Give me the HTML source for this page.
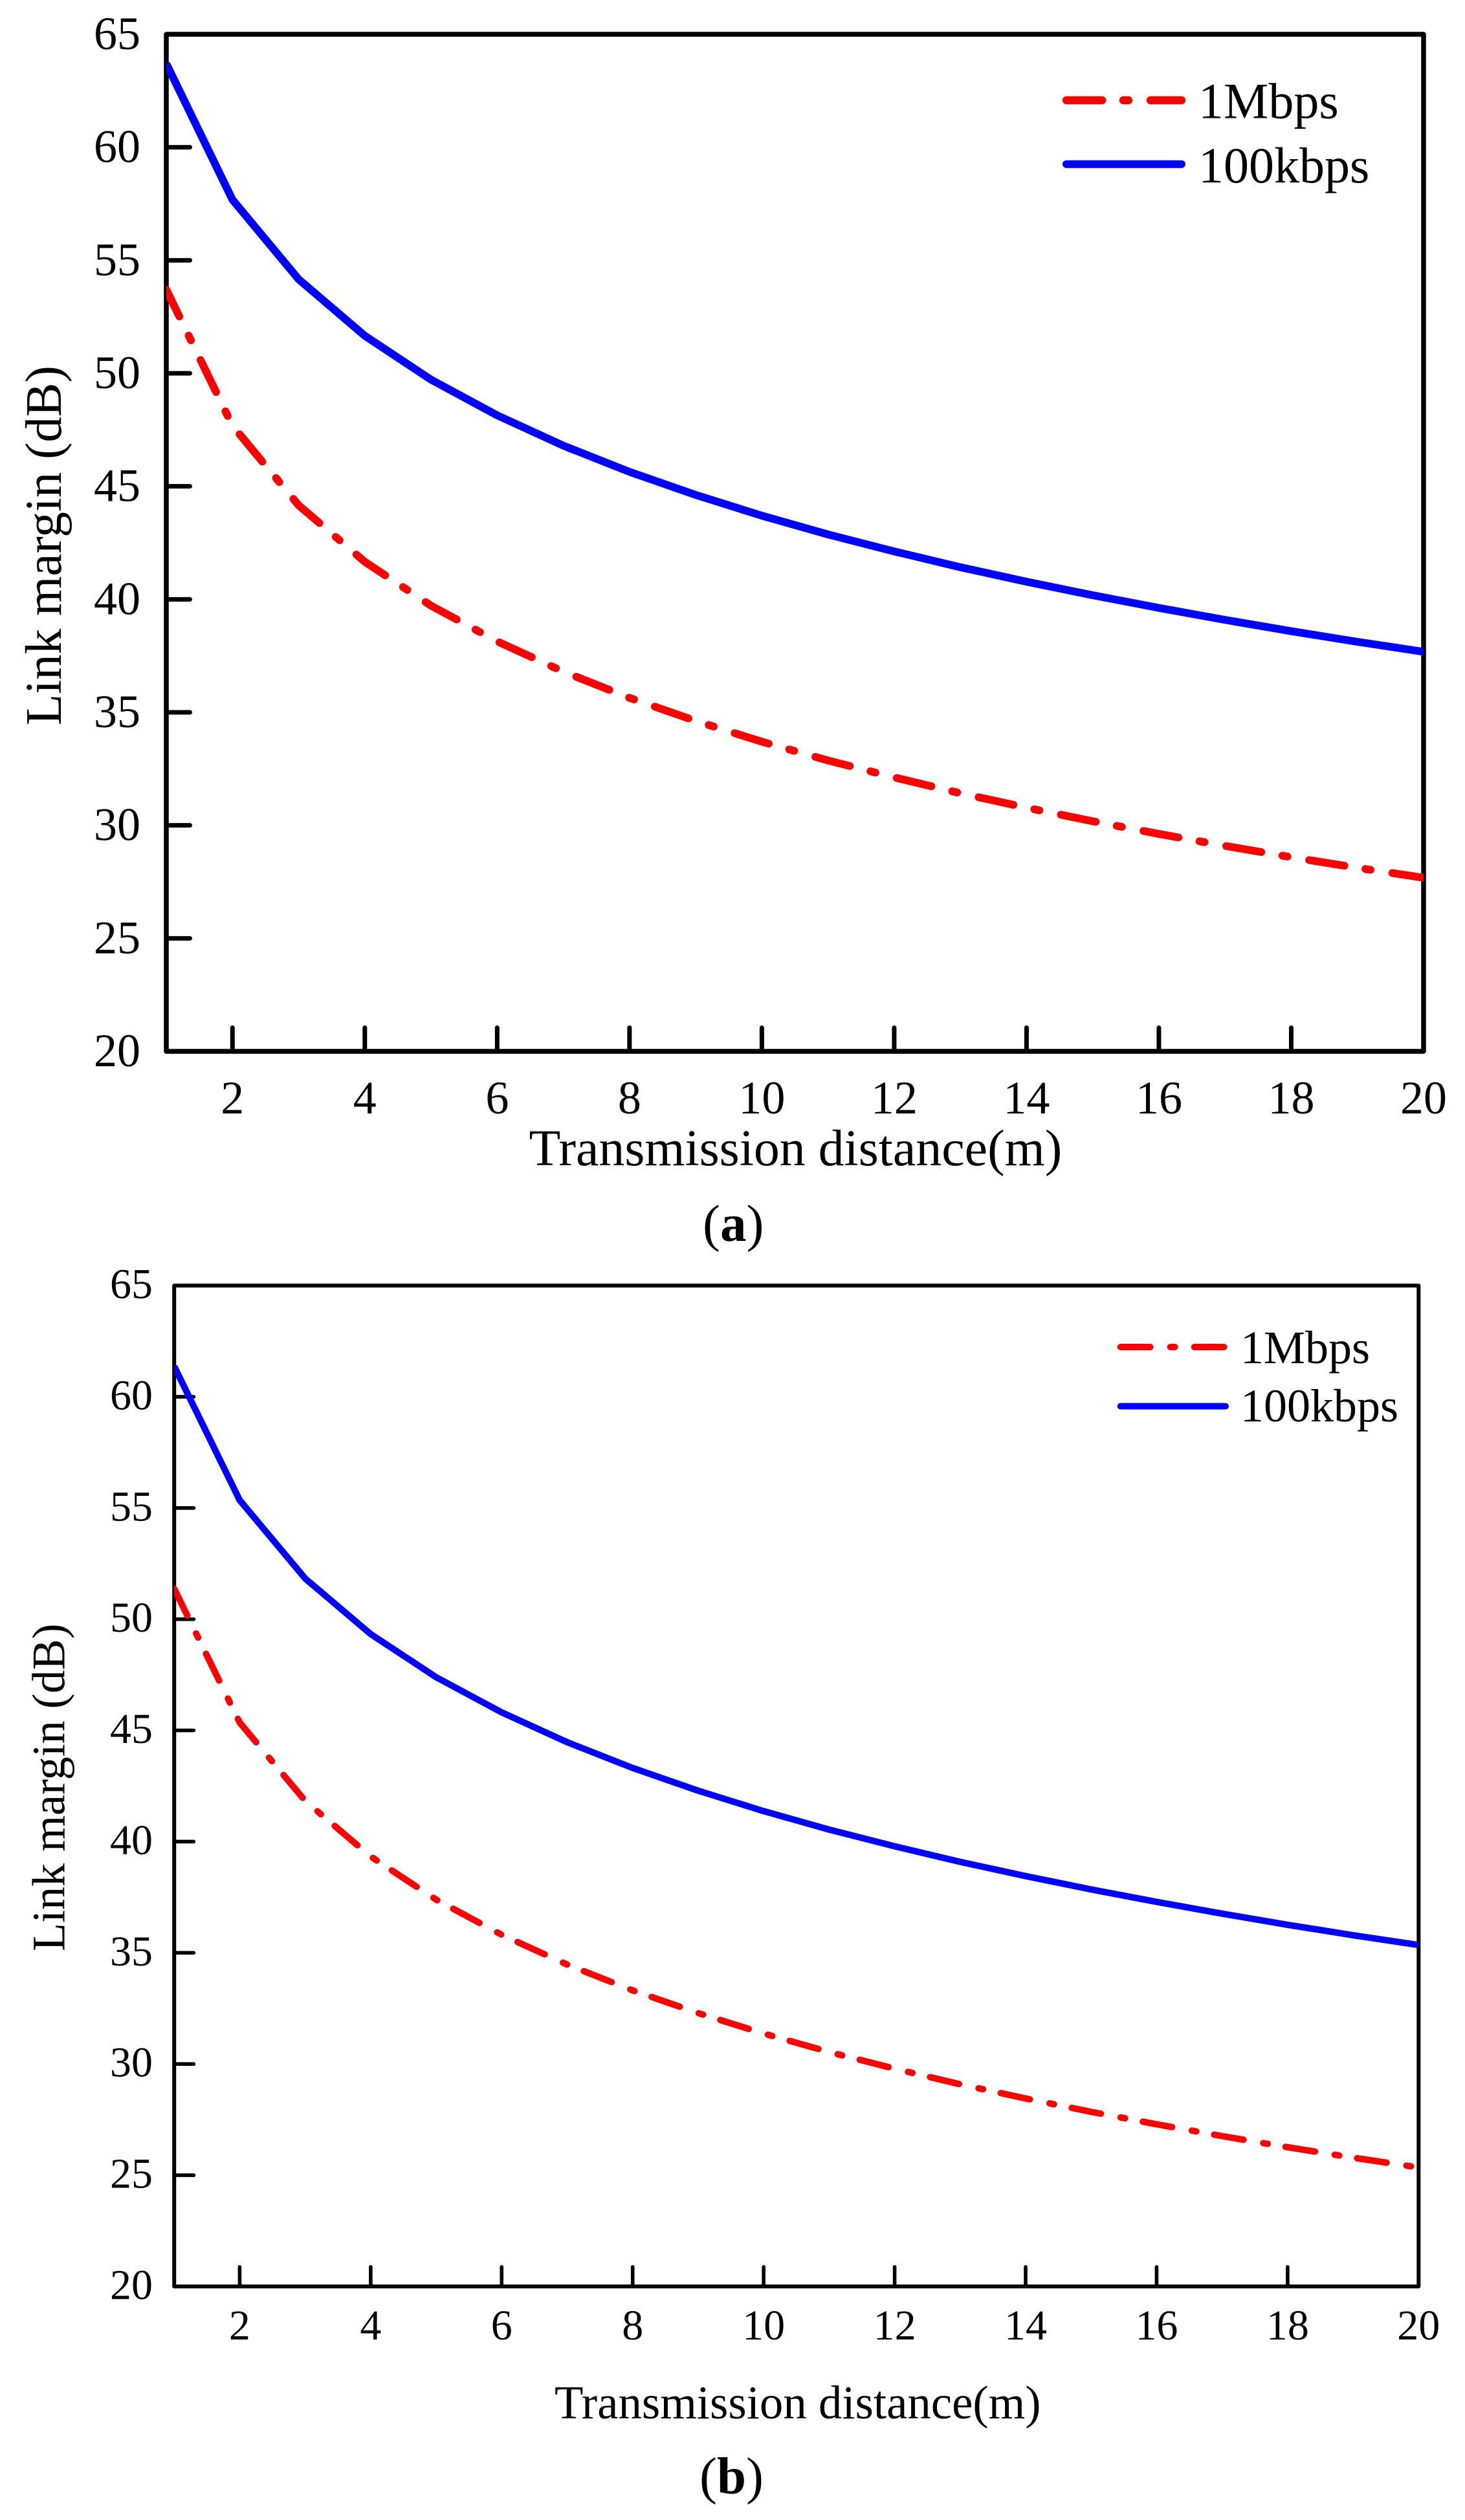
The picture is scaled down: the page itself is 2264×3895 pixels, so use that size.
<!DOCTYPE html>
<html lang="en">
<head>
<meta charset="utf-8">
<title>Link margin vs transmission distance</title>
<style>
html,body{margin:0;padding:0;background:#fff;}
svg{display:block;}
text{font-family:"Liberation Serif","Times New Roman",serif;fill:#000;}
</style>
</head>
<body>
<svg id="figure" xmlns="http://www.w3.org/2000/svg" width="2264" height="3895" viewBox="0 0 2264 3895">
  <rect x="0" y="0" width="2264" height="3895" fill="#fff"/>
  <defs>
    <clipPath id="clip-a"><rect x="257" y="53" width="1943" height="1572"/></clipPath>
    <clipPath id="clip-b"><rect x="269.2" y="1987" width="1923" height="1547"/></clipPath>
  </defs>

  <g id="chart-a"></g>
  <g id="chart-b"></g>

  <!-- chart a static text -->
  <text x="817.5" y="1801" font-size="79.8">Transmission distance(m)</text>
  <text transform="translate(94 1121) rotate(-90)" font-size="79">Link margin (dB)</text>
  <text x="1086" y="1918" font-size="81">(<tspan font-weight="bold">a</tspan>)</text>

  <g>
    <line x1="1648" y1="155" x2="1826" y2="155" stroke="#f00" stroke-width="12.5" stroke-linecap="round" stroke-dasharray="55 33 8 34"/>
    <text x="1852" y="182.5" font-size="78">1Mbps</text>
    <line x1="1648" y1="253.7" x2="1826" y2="253.7" stroke="#00f" stroke-width="12" stroke-linecap="round"/>
    <text x="1852" y="282" font-size="78">100kbps</text>
  </g>

  <!-- chart b static text -->
  <text x="857" y="3738" font-size="72.8">Transmission distance(m)</text>
  <text transform="translate(99.7 3016) rotate(-90)" font-size="72">Link margin (dB)</text>
  <text x="1081" y="3854" font-size="81">(<tspan font-weight="bold">b</tspan>)</text>

  <g>
    <line x1="1731.6" y1="2082" x2="1892" y2="2082" stroke="#f00" stroke-width="10" stroke-linecap="round" stroke-dasharray="46 31 7 30"/>
    <text x="1917" y="2107" font-size="72">1Mbps</text>
    <line x1="1731.6" y1="2173.5" x2="1894" y2="2173.5" stroke="#00f" stroke-width="10" stroke-linecap="round"/>
    <text x="1917" y="2197" font-size="72">100kbps</text>
  </g>
</svg>

<script>
// Shared axis data
const distances = [1,2,3,4,5,6,7,8,9,10,11,12,13,14,15,16,17,18,19,20];
const xTickLabels = [2,4,6,8,10,12,14,16,18,20];
const yTickLabels = [20,25,30,35,40,45,50,55,60,65];

// Chart (a) series
const chartA1Mbps = [53.70,47.68,44.16,41.66,39.72,38.14,36.80,35.64,34.62,33.70,32.87,32.12,31.42,30.78,30.18,29.62,29.09,28.59,28.12,27.68];
const chartA100kbps = [63.70,57.68,54.16,51.66,49.72,48.14,46.80,45.64,44.62,43.70,42.87,42.12,41.42,40.78,40.18,39.62,39.09,38.59,38.12,37.68];

// Chart (b) series
const chartB1Mbps = [51.37,45.35,41.83,39.33,37.39,35.81,34.47,33.31,32.29,31.37,30.54,29.79,29.09,28.45,27.85,27.29,26.76,26.26,25.79,25.35];
const chartB100kbps = [61.37,55.35,51.83,49.33,47.39,45.81,44.47,43.31,42.29,41.37,40.54,39.79,39.09,38.45,37.85,37.29,36.76,36.26,35.79,35.35];

const SVG_NS = 'http://www.w3.org/2000/svg';

function makeEl(tag, parent) {
  const el = document.createElementNS(SVG_NS, tag);
  parent.appendChild(el);
  return el;
}

function drawChart(opts) {
  const root = document.getElementById(opts.rootId);
  const xScale = v => opts.left + (v - 1) / 19 * (opts.right - opts.left);
  const yScale = v => opts.bottom - (v - 20) / 45 * (opts.bottom - opts.top);

  // y ticks and labels
  yTickLabels.forEach(v => {
    const py = yScale(v);
    if (v !== 20 && v !== 65) {
      const tick = makeEl('line', root);
      
      
      tick.setAttribute('x1', opts.left);
      tick.setAttribute('x2', opts.left + opts.tickLen - opts.tickW / 2);
      tick.setAttribute('y1', py);
      tick.setAttribute('y2', py);
      tick.setAttribute('stroke', '#000');
      tick.setAttribute('stroke-width', opts.tickW);
      tick.setAttribute('stroke-linecap', 'round');
    }
    const label = makeEl('text', root);
    
    
    label.setAttribute('x', opts.yLabelRight);
    label.setAttribute('y', py + opts.yLabelDy);
    label.setAttribute('text-anchor', 'end');
    label.setAttribute('font-size', opts.tickFont);
    label.textContent = v;
  });

  // x ticks and labels
  xTickLabels.forEach(v => {
    const px = xScale(v);
    if (v !== 20) {
      const tick = makeEl('line', root);
      
      
      tick.setAttribute('x1', px);
      tick.setAttribute('x2', px);
      tick.setAttribute('y1', opts.bottom);
      tick.setAttribute('y2', opts.bottom - opts.tickLen + opts.tickW / 2);
      tick.setAttribute('stroke', '#000');
      tick.setAttribute('stroke-width', opts.tickW);
      tick.setAttribute('stroke-linecap', 'round');
    }
    const label = makeEl('text', root);
    
    
    label.setAttribute('x', px);
    label.setAttribute('y', opts.xLabelY);
    label.setAttribute('text-anchor', 'middle');
    label.setAttribute('font-size', opts.tickFont);
    label.textContent = v;
  });

  // plot frame
  const frame = makeEl('rect', root);
  
  
  frame.setAttribute('x', opts.left);
  frame.setAttribute('y', opts.top);
  frame.setAttribute('width', opts.right - opts.left);
  frame.setAttribute('height', opts.bottom - opts.top);
  frame.setAttribute('fill', 'none');
  frame.setAttribute('stroke', '#000');
  frame.setAttribute('stroke-width', opts.frameW);
  frame.setAttribute('stroke-linejoin', 'round');

  // 100kbps series
  const pointsOf = series => series.map((v, i) => xScale(distances[i]).toFixed(2) + ',' + yScale(v).toFixed(2)).join(' ');

  const blue = makeEl('polyline', root);
  
  
  blue.setAttribute('points', pointsOf(opts.series100k));
  blue.setAttribute('fill', 'none');
  blue.setAttribute('stroke', '#00f');
  blue.setAttribute('stroke-width', opts.lineW);
  blue.setAttribute('stroke-linejoin', 'round');
  blue.setAttribute('clip-path', 'url(#' + opts.clipId + ')');

  // 1Mbps series
  const red = makeEl('polyline', root);
  
  
  red.setAttribute('points', pointsOf(opts.series1M));
  red.setAttribute('fill', 'none');
  red.setAttribute('stroke', '#f00');
  red.setAttribute('stroke-width', opts.lineW);
  red.setAttribute('stroke-linejoin', 'round');
  red.setAttribute('stroke-linecap', 'round');
  red.setAttribute('stroke-dasharray', opts.dash);
  red.setAttribute('stroke-dashoffset', opts.dashOffset);
  red.setAttribute('clip-path', 'url(#' + opts.clipId + ')');
}

drawChart({
  rootId: 'chart-a', clipId: 'clip-a',
  left: 257, right: 2200, top: 53, bottom: 1625,
  frameW: 7.5, tickW: 7, tickLen: 40, lineW: 12,
  tickFont: 72, yLabelRight: 217, yLabelDy: 23, xLabelY: 1721,
  dash: '55 33 8 34', dashOffset: 9,
  series1M: chartA1Mbps, series100k: chartA100kbps
});

drawChart({
  rootId: 'chart-b', clipId: 'clip-b',
  left: 269.2, right: 2192.3, top: 1987, bottom: 3534,
  frameW: 6, tickW: 5.6, tickLen: 33, lineW: 10,
  tickFont: 66, yLabelRight: 236, yLabelDy: 19.5, xLabelY: 3616,
  dash: '46 31 7 28', dashOffset: 0,
  series1M: chartB1Mbps, series100k: chartB100kbps
});
</script>
</body>
</html>
